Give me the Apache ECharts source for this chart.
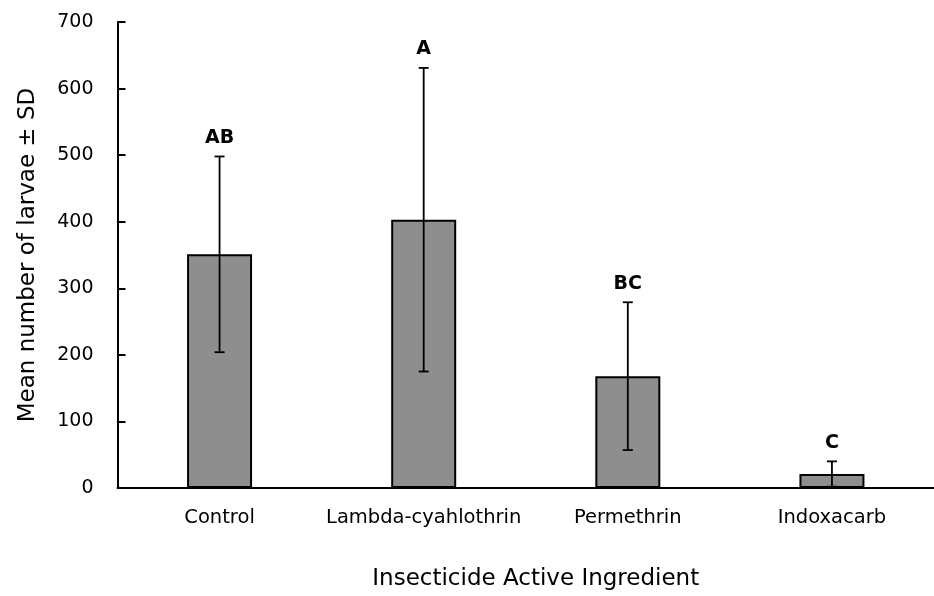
<!DOCTYPE html>
<html>
<head>
<meta charset="utf-8">
<script src="https://cdn.jsdelivr.net/npm/echarts@6/dist/echarts.min.js"></script>
<style>
html,body{margin:0;padding:0;background:#fff;}
#chart{width:934px;height:596px;}
</style>
</head>
<body>
<div id="chart"></div>
<script>
const categories = ['Control', 'Lambda-cyahlothrin', 'Permethrin', 'Indoxacarb'];
const means = [351, 403, 168, 21];
const sds = [147, 228, 111, 19];
const letters = ['AB', 'A', 'BC', 'C'];
const yTicks = [0, 100, 200, 300, 400, 500, 600, 700];

const FONT = '"DejaVu Sans"';
const chart = echarts.init(document.getElementById('chart'));

const errData = categories.map((c, i) => [i, means[i] - sds[i], means[i] + sds[i]]);

chart.setOption({
  animation: false,
  grid: { left: 117.5, top: 22, width: 830, height: 468, containLabel: false },
  xAxis: {
    type: 'category',
    data: categories,
    boundaryGap: true,
    axisLine: { show: true, lineStyle: { color: '#000', width: 2 } },
    axisTick: { show: false },
    axisLabel: { color: '#000', fontFamily: FONT, fontSize: 19.5, margin: 20, interval: 0, hideOverlap: false },
    name: 'Insecticide Active Ingredient',
    nameLocation: 'middle',
    nameGap: 80,
    nameTextStyle: { color: '#000', fontFamily: FONT, fontSize: 23, padding: [0, 0, 0, 20] }
  },
  yAxis: {
    type: 'value',
    min: yTicks[0],
    max: yTicks[yTicks.length - 1],
    interval: 100,
    splitLine: { show: false },
    axisLine: { show: true, lineStyle: { color: '#000', width: 2 } },
    axisTick: { show: true, inside: true, length: 8, lineStyle: { color: '#000', width: 2 } },
    axisLabel: { color: '#000', fontFamily: FONT, fontSize: 19, margin: 24 },
    name: 'Mean number of larvae \u00b1 SD',
    nameLocation: 'middle',
    nameGap: 78,
    nameTextStyle: { color: '#000', fontFamily: FONT, fontSize: 23 }
  },
  series: [
    {
      type: 'bar',
      data: means,
      barWidth: 65,
      itemStyle: { color: '#8e8e8e', borderColor: '#000', borderWidth: 2 }
    },
    {
      type: 'custom',
      data: errData,
      z: 5,
      renderItem: function (params, api) {
        const idx = api.value(0);
        const lo = api.coord([idx, api.value(1)]);
        const hi = api.coord([idx, api.value(2)]);
        const cap = 5;
        const style = { stroke: '#000', lineWidth: 1.8 };
        return {
          type: 'group',
          children: [
            { type: 'line', shape: { x1: hi[0], y1: hi[1], x2: lo[0], y2: lo[1] }, style: style },
            { type: 'line', shape: { x1: hi[0] - cap, y1: hi[1], x2: hi[0] + cap, y2: hi[1] }, style: style },
            { type: 'line', shape: { x1: lo[0] - cap, y1: lo[1], x2: lo[0] + cap, y2: lo[1] }, style: style },
            {
              type: 'text',
              x: hi[0], y: hi[1] - 9,
              style: {
                text: letters[params.dataIndex],
                fill: '#000',
                font: 'bold 19px ' + FONT,
                align: 'center',
                verticalAlign: 'bottom'
              }
            }
          ]
        };
      }
    }
  ]
});
</script>
</body>
</html>
